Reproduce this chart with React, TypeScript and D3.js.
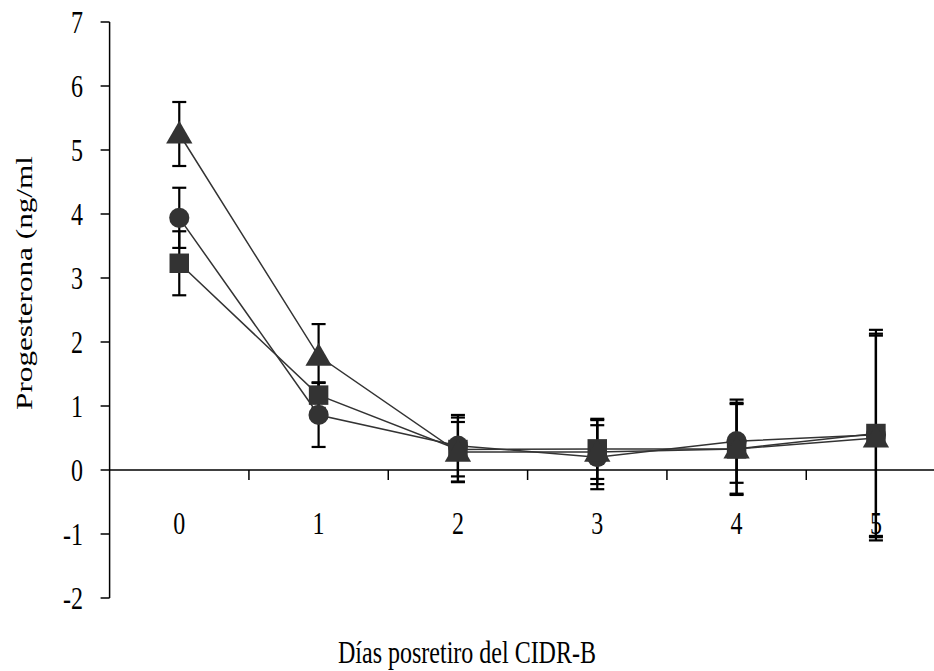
import React from "react";
import * as d3 from "d3";

const days = ["0", "1", "2", "3", "4", "5"];
const yTicks = [-2, -1, 0, 1, 2, 3, 4, 5, 6, 7];

const circleMean = [3.94, 0.86, 0.38, 0.2, 0.45, 0.55];
const circleErr = [0.47, 0.5, 0.48, 0.5, 0.65, 1.58];
const squareMean = [3.23, 1.17, 0.32, 0.33, 0.33, 0.57];
const squareErr = [0.5, 0.2, 0.5, 0.47, 0.72, 1.62];
const triangleMean = [5.25, 1.78, 0.28, 0.28, 0.33, 0.5];
const triangleErr = [0.5, 0.5, 0.47, 0.5, 0.7, 1.6];

const series = [
  { name: "circle", mean: circleMean, err: circleErr, symbol: d3.symbolCircle, size: 320 },
  { name: "square", mean: squareMean, err: squareErr, symbol: d3.symbolSquare, size: 380 },
  { name: "triangle", mean: triangleMean, err: triangleErr, symbol: d3.symbolTriangle, size: 300 },
];

const W = 934;
const H = 671;
const FONT = "'Liberation Serif', 'Times New Roman', serif";
const STRETCH = 1.3;

export default function App() {
  const x = d3.scaleBand<string>().domain(days).range([109.6, 945.6]).padding(0);
  const y = d3.scaleLinear().domain([-2, 7]).range([598, 22]);
  const cx = (i: number) => (x(days[i]) as number) + x.bandwidth() / 2;
  const line = d3
    .line<number>()
    .x((_, i) => cx(i))
    .y((v) => y(v));
  const x0 = 109.6;
  const yZero = y(0);

  return (
    <svg width={W} height={H} style={{ position: "absolute", left: 0, top: 0, background: "#fff" }}>
      <rect x={0} y={0} width={W} height={H} fill="#fff" />
      {/* y axis */}
      <line x1={x0} x2={x0} y1={y(7)} y2={y(-2)} stroke="#000" strokeWidth={1.5} />
      {yTicks.map((t) => (
        <g key={t}>
          <line x1={x0 - 9} x2={x0} y1={y(t)} y2={y(t)} stroke="#000" strokeWidth={1.5} />
          <text
            transform={`translate(83,${y(t)}) scale(1,${STRETCH})`}
            dy="0.35em"
            textAnchor="end"
            fontFamily={FONT}
            fontSize={24}
            fill="#000"
          >
            {t}
          </text>
        </g>
      ))}
      {/* x axis */}
      <line x1={x0} x2={W} y1={yZero} y2={yZero} stroke="#000" strokeWidth={1.5} />
      {days.slice(1).map((d) => (
        <line
          key={d}
          x1={x(d) as number}
          x2={x(d) as number}
          y1={yZero}
          y2={yZero + 10}
          stroke="#000"
          strokeWidth={1.5}
        />
      ))}
      {days.map((d, i) => (
        <text
          key={d}
          transform={`translate(${cx(i)},523) scale(1,${STRETCH})`}
          dy="0.35em"
          textAnchor="middle"
          fontFamily={FONT}
          fontSize={24}
          fill="#000"
        >
          {d}
        </text>
      ))}
      {/* lines */}
      {series.map((s) => (
        <path key={s.name} d={line(s.mean) || ""} fill="none" stroke="#333" strokeWidth={1.5} />
      ))}
      {/* error bars */}
      {series.map((s) =>
        s.mean.map((m, i) => {
          const top = y(m + s.err[i]);
          const bot = y(m - s.err[i]);
          const c = cx(i);
          return (
            <g key={s.name + i}>
              <line x1={c} x2={c} y1={top} y2={bot} stroke="#000" strokeWidth={2.2} />
              <line x1={c - 7} x2={c + 7} y1={top} y2={top} stroke="#000" strokeWidth={2.2} />
              <line x1={c - 7} x2={c + 7} y1={bot} y2={bot} stroke="#000" strokeWidth={2.2} />
            </g>
          );
        })
      )}
      {/* markers */}
      {series.map((s) =>
        s.mean.map((m, i) => (
          <path
            key={s.name + "m" + i}
            d={d3.symbol().type(s.symbol).size(s.size)() || ""}
            transform={`translate(${cx(i)},${y(m) + (s.name === "triangle" ? 2 : 0)})`}
            fill="#333"
          />
        ))
      )}
      {/* titles */}
      <text
        transform={`translate(32,283) scale(1,${STRETCH}) rotate(-90)`}
        textAnchor="middle"
        fontFamily={FONT}
        fontSize={24}
        fill="#000"
      >
        Progesterona (ng/ml
      </text>
      <text
        transform={`translate(467,652) scale(1,${STRETCH})`}
        dy="0.35em"
        textAnchor="middle"
        fontFamily={FONT}
        fontSize={24}
        fill="#000"
      >
        Días posretiro del CIDR-B
      </text>
    </svg>
  );
}
